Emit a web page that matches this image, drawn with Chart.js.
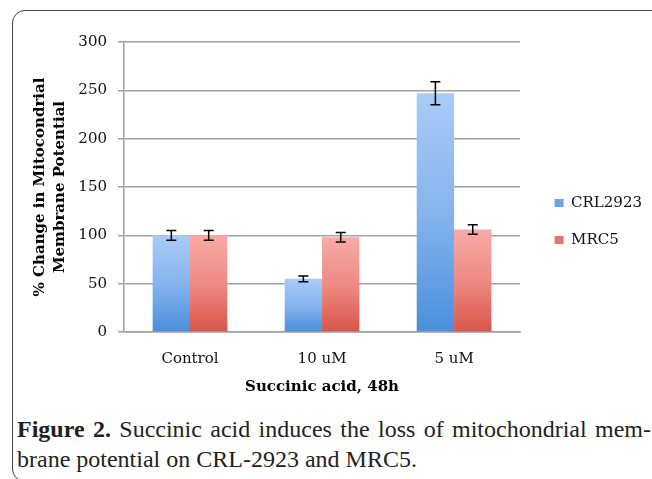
<!DOCTYPE html>
<html><head><meta charset="utf-8">
<script src="https://cdn.jsdelivr.net/npm/chart.js@4.4.1/dist/chart.umd.min.js"></script>
<style>
html,body{margin:0;padding:0;background:#fff;width:652px;height:479px;overflow:hidden;}
#frame{position:absolute;left:12px;top:10px;width:700px;height:472px;border:1.5px solid #444;border-radius:13px 0 0 13px;box-sizing:border-box;}
#wrap{position:absolute;left:0;top:0;width:652px;height:400px;}
#cap{position:absolute;left:17px;top:414px;width:634px;font-family:"Liberation Serif","Times New Roman",serif;font-size:24px;line-height:30px;color:#231f20;}
.l1{text-align:justify;text-align-last:justify;}
</style></head>
<body>
<div id="frame"></div>
<div id="wrap"><canvas id="c" width="652" height="400"></canvas></div>
<div id="cap"><div class="l1"><b>Figure 2.</b> Succinic acid induces the loss of mitochondrial mem-</div><div>brane potential on CRL-2923 and MRC5.</div></div>
<script>
const categories = ['Control', '10 uM', '5 uM'];
const seriesNames = ['CRL2923', 'MRC5'];
const crl2923 = [100, 55, 247];
const crl2923Err = [5, 3, 12];
const mrc5 = [100, 98, 106];
const mrc5Err = [5, 5, 5];
const yTicks = [0, 50, 100, 150, 200, 250, 300];
const yTitle = ['% Change in Mitocondrial', 'Membrane Potential'];
const xTitle = 'Succinic acid, 48h';

const FONT = '"DejaVu Serif", serif';
Chart.defaults.font.family = FONT;
Chart.defaults.font.size = 15;
Chart.defaults.color = '#111';

const blueStops = ['#a9cbf7', '#86b4ee', '#4a8fdb'];
const redStops = ['#f9aaa6', '#ee8a83', '#d9544a'];
const legendColors = ['#6aa5ec', '#e6736c'];

function gradFill(stops) {
  return (ctx) => {
    const chart = ctx.chart;
    if (!chart.chartArea || ctx.type !== 'data') return stops[1];
    const y = chart.scales.y;
    const top = y.getPixelForValue(ctx.raw);
    const bottom = y.getPixelForValue(0);
    const g = chart.ctx.createLinearGradient(0, top, 0, bottom);
    g.addColorStop(0, stops[0]);
    g.addColorStop(0.5, stops[1]);
    g.addColorStop(1, stops[2]);
    return g;
  };
}

const errorBars = {
  id: 'errorBars',
  afterDatasetsDraw(chart) {
    const {ctx} = chart;
    const y = chart.scales.y;
    ctx.save();
    ctx.strokeStyle = '#000';
    ctx.lineWidth = 1.5;
    chart.data.datasets.forEach((ds, i) => {
      const meta = chart.getDatasetMeta(i);
      meta.data.forEach((bar, j) => {
        const v = ds.data[j], e = ds.errors[j];
        const x = bar.x;
        const yt = y.getPixelForValue(v + e), yb = y.getPixelForValue(v - e);
        ctx.beginPath();
        ctx.moveTo(x, yt); ctx.lineTo(x, yb);
        ctx.moveTo(x - 5, yt); ctx.lineTo(x + 5, yt);
        ctx.moveTo(x - 5, yb); ctx.lineTo(x + 5, yb);
        ctx.stroke();
      });
    });
    ctx.restore();
  }
};

new Chart(document.getElementById('c'), {
  type: 'bar',
  data: {
    labels: categories,
    datasets: [
      {label: seriesNames[0], data: crl2923, errors: crl2923Err, backgroundColor: gradFill(blueStops), borderWidth: 0},
      {label: seriesNames[1], data: mrc5, errors: mrc5Err, backgroundColor: gradFill(redStops), borderWidth: 0}
    ]
  },
  options: {
    responsive: false,
    devicePixelRatio: 1,
    animation: false,
    datasets: {bar: {categoryPercentage: 0.566, barPercentage: 1.0}},
    layout: {padding: {top: 42, left: 30, right: 0, bottom: 4}},
    scales: {
      x: {
        grid: {display: false},
        border: {display: true, color: '#a0a0a0', width: 1.5},
        ticks: {padding: 10, color: '#111', font: {family: FONT, size: 15}},
        title: {display: true, text: xTitle, color: '#000', padding: {top: 0, bottom: 0},
          font: {family: FONT, size: 15, weight: 'bold', lineHeight: 1.2}},
        afterFit: (s) => { s.height = 64; }
      },
      y: {
        min: 0, max: 300,
        afterBuildTicks: (s) => { s.ticks = yTicks.map(v => ({value: v})); },
        grid: {color: '#a0a0a0', lineWidth: 1.5, tickLength: 6, drawTicks: true},
        border: {display: true, color: '#a0a0a0', width: 1.5},
        ticks: {padding: 11, color: '#111', font: {family: FONT, size: 15}},
        title: {display: true, text: yTitle, color: '#000', padding: {top: 0, bottom: 0},
          font: {family: FONT, size: 15, weight: 'bold', lineHeight: 20 / 15}},
        afterFit: (s) => { s.width = 94; }
      },
      yRight: {
        type: 'linear', position: 'right', display: true,
        grid: {display: false, drawTicks: false}, border: {display: false},
        ticks: {display: false}, title: {display: false},
        afterFit: (s) => { s.width = 12.5; }
      }
    },
    plugins: {
      legend: {
        position: 'right', align: 'center', maxWidth: 200,
        title: {display: true, text: '', padding: {top: 4, bottom: 0}, font: {size: 1, lineHeight: 1}},
        labels: {
          boxWidth: 9, boxHeight: 8, padding: 22, color: '#111',
          font: {family: FONT, size: 15},
          generateLabels: (chart) => chart.data.datasets.map((ds, i) => ({
            text: ds.label, fillStyle: legendColors[i], strokeStyle: legendColors[i],
            fontColor: '#111', lineWidth: 0, hidden: false, datasetIndex: i
          }))
        }
      },
      tooltip: {enabled: false}
    }
  },
  plugins: [errorBars]
});
</script>
</body></html>
